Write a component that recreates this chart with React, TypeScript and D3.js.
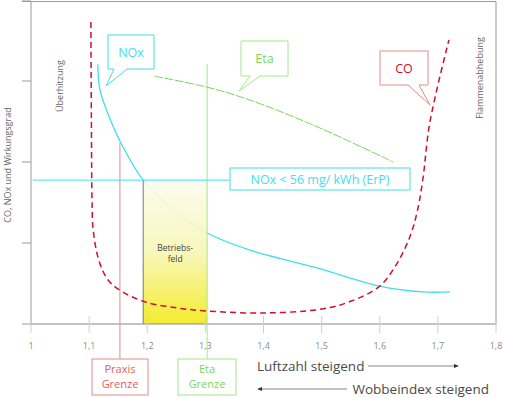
import React from 'react';
import * as d3 from 'd3';

// Luftzahl (lambda) ticks on the x axis
const xTicks = [1, 1.1, 1.2, 1.3, 1.4, 1.5, 1.6, 1.7, 1.8];
const yTicks = [0, 25, 50, 75, 100];

// curves: [luftzahl, relative value]
const coCurve: [number, number][] = [
  [1.103, 93.2], [1.104, 60], [1.105, 38.3], [1.107, 29.0], [1.117, 19.5],
  [1.131, 14.0], [1.148, 11.0], [1.193, 7.0], [1.25, 5.0], [1.303, 4.0],
  [1.4, 3.4], [1.5, 4.6], [1.55, 7.0], [1.6, 11.7], [1.63, 18.8],
  [1.652, 27], [1.664, 34.3], [1.674, 44.4], [1.686, 62], [1.719, 87.7],
];
const noxCurve: [number, number][] = [
  [1.115, 80.2], [1.116, 76], [1.119, 72], [1.131, 65.5], [1.153, 56.5],
  [1.193, 44.4], [1.25, 34.5], [1.303, 28.1], [1.377, 22.8], [1.492, 17.3],
  [1.599, 11.7], [1.674, 9.9], [1.721, 9.9],
];
const etaCurve: [number, number][] = [
  [1.212, 76.5], [1.303, 73.1], [1.377, 69.1], [1.497, 60.5], [1.623, 50.0],
];

const noxLimit = 44.4; // NOx < 56 mg/kWh
const praxisGrenze = 1.153;
const etaGrenze = 1.303;
const betriebsStart = 1.193;

const W = 505;
const H = 398;

export default function App() {
  const x = d3.scaleLinear().domain([1, 1.8]).range([31, 496]);
  const y = d3.scaleLinear().domain([0, 100]).range([324, 0]);
  const line = d3.line<[number, number]>()
    .x(d => x(d[0]))
    .y(d => y(d[1]))
    .curve(d3.curveCatmullRom.alpha(0.5));

  const font = '"Open Sans", "DejaVu Sans", sans-serif';
  const red = '#d0102a';
  const lightRed = '#e58a8a';
  const cyan = '#3fe0ea';
  const green = '#7ad65a';
  const lightGreen = '#a3e88a';
  const grey = '#9a9a9a';
  const txt = '#4a4a4a';

  const yLimit = y(noxLimit);

  return (
    <svg width={W} height={H} style={{ position: 'absolute', left: 0, top: 0 }} fontFamily={font}>
      <defs>
        <linearGradient id="bf" x1="0" y1="0" x2="0" y2="1">
          <stop offset="0" stopColor="#fbfbee" />
          <stop offset="0.5" stopColor="#f8f6b4" />
          <stop offset="1" stopColor="#f2ea18" />
        </linearGradient>
      </defs>
      <rect width={W} height={H} fill="#fff" />

      {/* NOx curve sits behind the Betriebsfeld */}
      <path d={line(noxCurve) || ''} fill="none" stroke={cyan} strokeWidth={1.3} />

      {/* Betriebsfeld */}
      <rect x={x(betriebsStart)} y={yLimit} width={x(etaGrenze) - x(betriebsStart)}
        height={y(0) - yLimit} fill="url(#bf)" opacity={0.9} />
      <line x1={x(betriebsStart)} x2={x(betriebsStart)} y1={yLimit} y2={y(0)} stroke="#777" strokeWidth={1} />
      <text x={(x(betriebsStart) + x(etaGrenze)) / 2} y={251} fontSize={8.5} fill="#444" textAnchor="middle">Betriebs-</text>
      <text x={(x(betriebsStart) + x(etaGrenze)) / 2} y={262} fontSize={8.5} fill="#444" textAnchor="middle">feld</text>

      {/* frame and ticks */}
      <line x1={22} x2={496} y1={1.5} y2={1.5} stroke={grey} />
      <line x1={496} x2={496} y1={1.5} y2={y(0)} stroke={grey} />
      <line x1={31} x2={31} y1={1.5} y2={y(0)} stroke={grey} />
      <line x1={31} x2={496} y1={y(0)} y2={y(0)} stroke="#888" />
      {yTicks.map(t => (
        <line key={t} x1={22} x2={31} y1={y(t)} y2={y(t)} stroke={grey} />
      ))}
      {xTicks.map(t => (
        <g key={t}>
          <line x1={x(t)} x2={x(t)} y1={y(0) - 8} y2={y(0) + 9} stroke="#d0d0d0" />
          <text x={x(t)} y={349} fontSize={9} fill="#8a8a8a" textAnchor="middle">
            {String(t).replace('.', ',')}
          </text>
        </g>
      ))}

      {/* axis title */}
      <text transform="translate(11,165) rotate(-90)" fontSize={9} fill="#666" textAnchor="middle">
        CO, NOx und Wirkungsgrad
      </text>
      <text transform="translate(63,86) rotate(-90)" fontSize={9} fill="#666" textAnchor="middle">Überhitzung</text>
      <text transform="translate(483,78) rotate(-90)" fontSize={9} fill="#666" textAnchor="middle">Flammenabhebung</text>

      {/* limits */}
      <line x1={x(praxisGrenze)} x2={x(praxisGrenze)} y1={143} y2={359} stroke={lightRed} />
      <line x1={x(etaGrenze)} x2={x(etaGrenze)} y1={64} y2={359} stroke={lightGreen} />
      <line x1={33} x2={230} y1={yLimit} y2={yLimit} stroke={cyan} />

      {/* curves */}
      <path d={line(etaCurve) || ''} fill="none" stroke={green} strokeWidth={1} strokeDasharray="9,1.5" />
      <path d={line(coCurve) || ''} fill="none" stroke={red} strokeWidth={1.5} strokeDasharray="6,4" />

      {/* callouts */}
      <path d="M108,35 H154 V69 H127 L106,86 L114,69 H108 Z" fill="#fff" stroke={cyan} />
      <text x={131} y={57} fontSize={12.5} fill={cyan} textAnchor="middle">NOx</text>

      <path d="M241,41 H288 V76 H260 L239,91 L250,76 H241 Z" fill="#fff" stroke={lightGreen} />
      <text x={264.5} y={63} fontSize={12.5} fill={green} textAnchor="middle">Eta</text>

      <path d="M380,51 H428 V85 H419 L430,105 L408,85 H380 Z" fill="#fff" stroke={lightRed} />
      <text x={404} y={73} fontSize={12.5} fill={red} textAnchor="middle">CO</text>

      <rect x={230} y={168} width={180} height={22} fill="#fff" stroke={cyan} />
      <text x={320} y={184} fontSize={12.5} fill={cyan} textAnchor="middle">NOx &lt; 56 mg/ kWh (ErP)</text>

      <rect x={92} y={359} width={56} height={36} fill="#fff" stroke={lightRed} />
      <text x={120} y={373} fontSize={11} fill="#e06060" textAnchor="middle">Praxis</text>
      <text x={120} y={388} fontSize={11} fill="#e06060" textAnchor="middle">Grenze</text>

      <rect x={178} y={359} width={58} height={36} fill="#fff" stroke={lightGreen} />
      <text x={207} y={373} fontSize={11} fill={green} textAnchor="middle">Eta</text>
      <text x={207} y={388} fontSize={11} fill={green} textAnchor="middle">Grenze</text>

      {/* direction notes */}
      <text x={257} y={371} fontSize={13.5} fill={txt}>Luftzahl steigend</text>
      <line x1={368} x2={457} y1={366} y2={366} stroke="#555" strokeWidth={0.7} />
      <path d="M459,366 L454,364 L454,368 Z" fill="#333" />
      <text x={489} y={394} fontSize={13.5} fill={txt} textAnchor="end">Wobbeindex steigend</text>
      <line x1={259} x2={347} y1={389} y2={389} stroke="#555" strokeWidth={0.7} />
      <path d="M257,389 L262,387 L262,391 Z" fill="#333" />
    </svg>
  );
}
